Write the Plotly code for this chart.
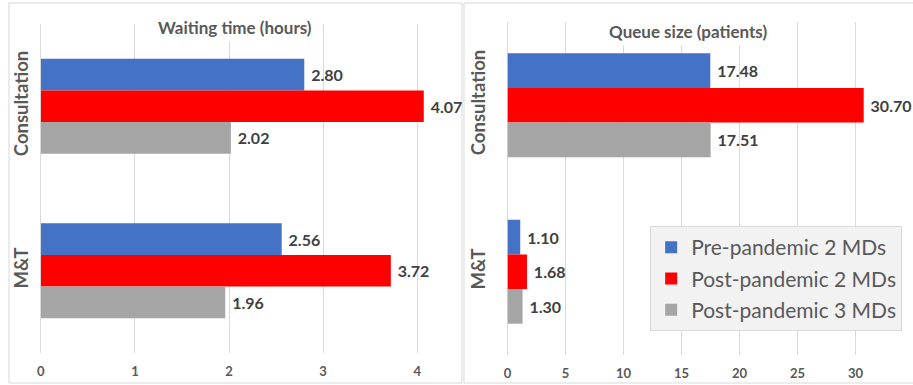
import plotly.graph_objects as go

# Data
categories = ["Consultation", "M&T"]
series_names = ["Pre-pandemic 2 MDs", "Post-pandemic 2 MDs", "Post-pandemic 3 MDs"]
waiting_pre2 = [2.80, 2.56]
waiting_post2 = [4.07, 3.72]
waiting_post3 = [2.02, 1.96]
queue_pre2 = [17.48, 1.10]
queue_post2 = [30.70, 1.68]
queue_post3 = [17.51, 1.30]
waiting_ticks = [0, 1, 2, 3, 4]
queue_ticks = [0, 5, 10, 15, 20, 25, 30]

colors = ["#4472C4", "#FF0000", "#A5A5A5"]
FONT = "Lato"
W, H = 913, 385

fig = go.Figure()

waiting = [waiting_pre2, waiting_post2, waiting_post3]
queue = [queue_pre2, queue_post2, queue_post3]

# bar thickness (category units) per panel; blue on top, grey at bottom
w_left = 0.193
w_right = 0.208
slot = [0.5, -0.5, -1.5]  # offsets in bar widths: pre (top), post2 (middle), post3 (bottom)

labelfont = dict(family=FONT, size=16, color="#404040", weight="bold")

for i, name in enumerate(series_names):
    fig.add_trace(go.Bar(
        y=categories, x=waiting[i], orientation="h", name=name,
        marker=dict(color=colors[i], line=dict(width=0)),
        width=w_left, offset=slot[i] * w_left,
        texttemplate=" %{x:.2f}", textposition="outside",
        textfont=labelfont, cliponaxis=False,
        showlegend=False, legendgroup=name,
        xaxis="x", yaxis="y",
    ))
for i, name in enumerate(series_names):
    fig.add_trace(go.Bar(
        y=categories, x=queue[i], orientation="h", name=name,
        marker=dict(color=colors[i], line=dict(width=0)),
        width=w_right, offset=slot[i] * w_right,
        texttemplate=" %{x:.2f}", textposition="outside",
        textfont=labelfont, cliponaxis=False,
        showlegend=True, legendgroup=name,
        xaxis="x2", yaxis="y2",
    ))

grid = "#D9D9D9"
tickfont = dict(family=FONT, size=13, color="#595959", weight="bold")
catfont = dict(family=FONT, size=18.5, color="#595959", weight="bold")
titlefont = dict(family=FONT, size=17, color="#595959")

fig.update_layout(
    width=W, height=H,
    margin=dict(l=0, r=0, t=0, b=0),
    paper_bgcolor="white", plot_bgcolor="white",
    barmode="overlay",
    font=dict(family=FONT, color="#595959"),
    xaxis=dict(domain=[37 / W, 458 / W], range=[0, 4.455], tickvals=waiting_ticks,
               showgrid=True, gridcolor=grid, gridwidth=1, zeroline=True,
               zerolinecolor=grid, zerolinewidth=1, showline=False, ticks="",
               tickfont=tickfont, anchor="y", ticklabelstandoff=9),
    yaxis=dict(domain=[1 - 353 / H, 1 - 24 / H], categoryorder="array",
               categoryarray=categories[::-1], range=[-0.5, 1.5],
               showgrid=False, zeroline=False, showline=False, ticks="",
               tickangle=-90, tickfont=catfont, anchor="x", ticklabelstandoff=8),
    xaxis2=dict(domain=[505.7 / W, 1.0], range=[0, 34.95], tickvals=queue_ticks,
                showgrid=True, gridcolor=grid, gridwidth=1, zeroline=True,
                zerolinecolor=grid, zerolinewidth=1, showline=False, ticks="",
                tickfont=tickfont, anchor="y2", ticklabelstandoff=9),
    yaxis2=dict(domain=[1 - 355 / H, 1 - 22 / H], categoryorder="array",
                categoryarray=categories[::-1], range=[-0.5, 1.5],
                showgrid=False, zeroline=False, showline=False, ticks="",
                tickangle=-90, tickfont=catfont, anchor="x2", ticklabelstandoff=18),
    legend=dict(x=649 / W, y=1 - 226 / H, xanchor="left", yanchor="top",
                bgcolor="#F2F2F2", bordercolor="#D9D9D9", borderwidth=1,
                font=dict(family=FONT, size=21, color="#595959"),
                traceorder="grouped", tracegroupgap=1, itemwidth=30),
    annotations=[
        dict(text="<b>Waiting time (hours)</b>", xref="paper", yref="paper",
             x=232 / W, y=1 - 27 / H, xanchor="center", yanchor="middle",
             showarrow=False, bgcolor="white", borderpad=3, font=titlefont),
        dict(text="<b>Queue size (patients)</b>", xref="paper", yref="paper",
             x=687 / W, y=1 - 31 / H, xanchor="center", yanchor="middle",
             showarrow=False, bgcolor="white", borderpad=3, font=titlefont),
    ],
    shapes=[
        dict(type="rect", xref="paper", yref="paper", x0=5 / W, x1=460 / W,
             y0=1 - 383 / H, y1=1 - 3 / H, line=dict(color=grid, width=1),
             fillcolor="rgba(0,0,0,0)", layer="below"),
        dict(type="rect", xref="paper", yref="paper", x0=462 / W, x1=1.01,
             y0=1 - 383 / H, y1=1 - 3 / H, line=dict(color=grid, width=1),
             fillcolor="rgba(0,0,0,0)", layer="below"),
    ],
)

fig.write_html("out.html")
